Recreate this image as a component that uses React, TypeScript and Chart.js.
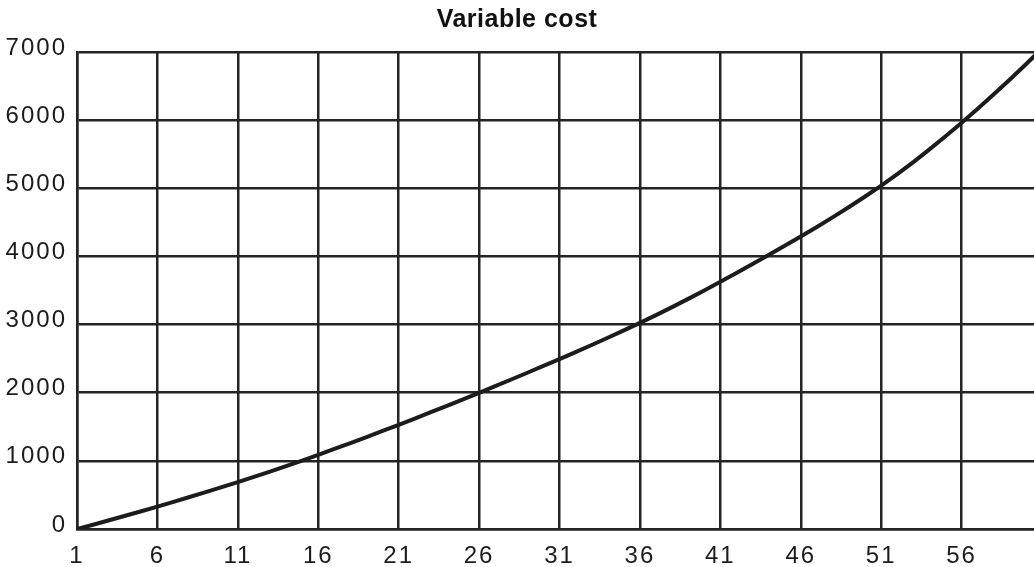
import React, { useEffect, useRef } from "react";
import { Chart, registerables } from "chart.js";

Chart.register(...registerables);

const TITLE = "Variable cost";
const QUANTITY_START = 1;
// Variable cost for quantities 1..61 (61 lies just past the cropped right edge)
const VARIABLE_COST = [
  0, 63, 128, 194, 261, 329, 399, 470, 542, 615,
  689, 765, 843, 923, 1005, 1089, 1175, 1262, 1350, 1439,
  1529, 1621, 1714, 1808, 1903, 1999, 2096, 2194, 2293, 2393,
  2494, 2596, 2700, 2806, 2914, 3024, 3138, 3256, 3377, 3501,
  3628, 3757, 3888, 4021, 4156, 4293, 4433, 4577, 4725, 4879,
  5039, 5207, 5384, 5570, 5763, 5961, 6167, 6379, 6597, 6821,
  7051,
];
const X_TICKS = [1, 6, 11, 16, 21, 26, 31, 36, 41, 46, 51, 56];
const X_MIN = 1;
const X_MAX = 60.5;
const Y_MIN = 0;
const Y_MAX = 7000;
const Y_STEP = 1000;

const FONT_FAMILY = '"Liberation Sans", Arial, Helvetica, sans-serif';
const INK = "#1c1c1c";
const GRID = "#242424";

const letterSpacingPlugin = {
  id: "letterSpacing",
  beforeDraw(chart: any) {
    const ctx = chart.ctx;
    ctx.letterSpacing = "2px";
    const tb = chart.titleBlock;
    if (tb && !tb.__patched) {
      const orig = tb.draw;
      tb.draw = function (...args: any[]) {
        const prev = ctx.letterSpacing;
        ctx.letterSpacing = "0.5px";
        orig.apply(this, args);
        ctx.letterSpacing = prev;
      };
      tb.__patched = true;
    }
  },
};

export default function App() {
  const canvasRef = useRef<HTMLCanvasElement | null>(null);

  useEffect(() => {
    if (!canvasRef.current) return;
    const points = VARIABLE_COST.map((y, i) => ({ x: QUANTITY_START + i, y }));
    const tickFont = { family: FONT_FAMILY, size: 24 };
    const chart = new Chart(canvasRef.current, {
      type: "line",
      data: {
        datasets: [
          {
            label: TITLE,
            data: points,
            borderColor: INK,
            borderWidth: 4,
            pointRadius: 0,
            tension: 0,
            fill: false,
          },
        ],
      },
      options: {
        animation: false,
        responsive: true,
        maintainAspectRatio: false,
        layout: { padding: 0 },
        plugins: {
          legend: { display: false },
          tooltip: { enabled: false },
          title: {
            display: true,
            text: TITLE,
            color: "#111",
            font: { family: FONT_FAMILY, size: 25, weight: "bold" },
            padding: { top: 5, bottom: 17 },
          },
        },
        scales: {
          x: {
            type: "linear",
            min: X_MIN,
            max: X_MAX,
            afterBuildTicks: (scale: any) => {
              scale.ticks = X_TICKS.map((value) => ({ value }));
            },
            afterFit: (scale: any) => {
              scale.height = 38;
            },
            grid: { color: GRID, lineWidth: 2.5, drawTicks: false },
            border: { color: GRID, width: 2.5 },
            ticks: {
              padding: 13,
              color: INK,
              font: tickFont,
              maxRotation: 0,
              autoSkip: false,
              callback: (v: any) => String(v),
            },
          },
          y: {
            min: Y_MIN,
            max: Y_MAX,
            afterFit: (scale: any) => {
              scale.width = 77;
            },
            grid: { color: GRID, lineWidth: 2.5, drawTicks: false },
            border: { color: GRID, width: 2.5 },
            ticks: {
              stepSize: Y_STEP,
              padding: 10,
              labelOffset: -4,
              color: INK,
              font: tickFont,
              callback: (v: any) => String(v),
            },
          },
        },
      },
      plugins: [letterSpacingPlugin],
    } as any);
    return () => chart.destroy();
  }, []);

  return (
    <>
      <style>{"body{margin:0;overflow:hidden;background:#fff}"}</style>
      <div style={{ width: 1034, height: 567, position: "relative" }}>
        <canvas ref={canvasRef} />
      </div>
    </>
  );
}
